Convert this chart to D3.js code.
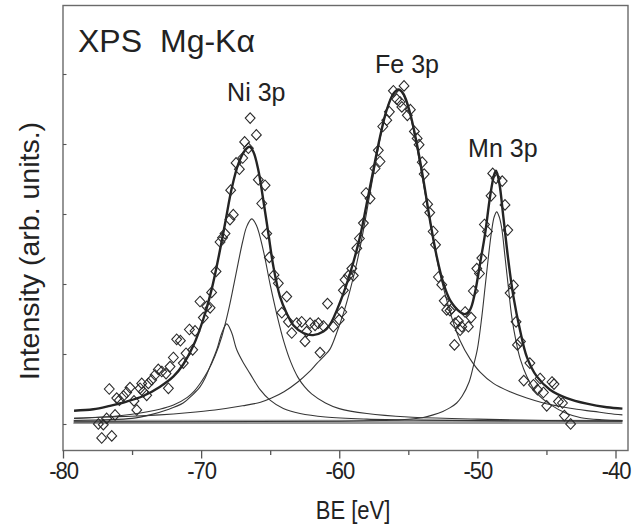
<!DOCTYPE html>
<html>
<head>
<meta charset="utf-8">
<script src="https://cdn.jsdelivr.net/npm/d3@7"></script>
<style>
  body { margin: 0; background: #fff; }
  svg { display: block; }
  text { font-family: Arial, "Liberation Sans", sans-serif; fill: #222; }
</style>
</head>
<body>
<svg id="chart" width="642" height="528"></svg>
<script>
// Binding-energy axis ticks (eV) and unlabelled intensity ticks
const beTicks = [-80, -70, -60, -50, -40];
const beMinorTicks = [-75, -65, -55, -45];
const intensityTicks = [0, 1, 2, 3, 4, 5];

// Measured spectrum: [binding energy (eV), intensity (arb. units)]
const measured = [
  [-77.44, 0.00], [-77.08, -0.01], [-77.20, -0.20], [-76.47, -0.17], [-76.84, 0.08],
  [-76.23, 0.13], [-76.65, 0.50], [-76.11, 0.37], [-75.92, 0.34], [-75.63, 0.40],
  [-75.39, 0.45], [-75.15, 0.52], [-74.86, 0.33], [-74.66, 0.20], [-74.42, 0.51],
  [-74.30, 0.58], [-74.18, 0.46], [-73.94, 0.41], [-73.82, 0.58], [-73.58, 0.63],
  [-73.34, 0.70], [-73.10, 0.78], [-72.85, 0.75], [-72.54, 0.72], [-72.37, 0.51],
  [-72.01, 0.95], [-71.77, 1.21], [-72.25, 0.82], [-71.50, 1.19], [-71.29, 0.87],
  [-71.09, 1.01], [-70.85, 1.35], [-70.61, 1.06], [-70.44, 1.33], [-70.08, 1.75],
  [-69.84, 1.52], [-69.59, 1.68], [-69.35, 1.66], [-69.24, 1.88], [-68.92, 2.18],
  [-68.63, 2.60], [-68.45, 2.66], [-68.27, 2.72], [-67.91, 2.92], [-67.67, 2.99],
  [-67.86, 3.34], [-67.47, 3.73], [-67.23, 3.64], [-66.99, 3.80], [-66.85, 4.03],
  [-66.58, 3.94], [-66.45, 4.37], [-66.00, 4.13], [-65.86, 3.49], [-65.37, 3.41],
  [-65.61, 3.15], [-65.25, 2.72], [-65.06, 2.38], [-64.72, 2.13], [-64.41, 2.01],
  [-63.80, 1.82], [-64.16, 1.59], [-63.68, 1.46], [-63.44, 1.30], [-63.08, 1.44],
  [-62.72, 1.46], [-62.48, 1.18], [-62.36, 1.32], [-62.11, 1.44], [-61.75, 1.41],
  [-61.51, 1.44], [-61.15, 1.40], [-61.39, 1.02], [-60.85, 1.72], [-60.43, 1.39],
  [-60.00, 1.49], [-59.82, 1.60], [-59.70, 1.91], [-59.58, 2.06], [-59.34, 2.12],
  [-59.09, 2.22], [-58.98, 2.12], [-58.73, 2.51], [-58.54, 2.65], [-58.25, 2.87],
  [-58.06, 3.30], [-57.77, 3.22], [-57.41, 3.65], [-57.05, 3.75], [-57.17, 3.91],
  [-56.85, 4.25], [-56.56, 4.34], [-56.37, 4.46], [-56.08, 4.76], [-55.84, 4.64],
  [-55.60, 4.60], [-55.47, 4.53], [-55.31, 4.83], [-55.07, 4.41], [-54.85, 4.49],
  [-54.56, 4.18], [-54.36, 4.08], [-54.22, 3.99], [-53.99, 3.74], [-53.85, 3.57],
  [-53.60, 3.14], [-53.45, 3.02], [-53.20, 2.75], [-53.03, 2.56], [-52.82, 2.10],
  [-52.58, 1.99], [-52.40, 1.76], [-52.22, 1.63], [-51.98, 1.62], [-51.85, 1.65],
  [-51.61, 1.44], [-51.37, 1.47], [-51.25, 1.34], [-51.13, 1.39], [-51.66, 1.13],
  [-50.89, 1.60], [-50.65, 1.39], [-50.45, 1.52], [-50.29, 1.90], [-50.04, 2.22],
  [-49.85, 2.15], [-49.68, 2.37], [-49.49, 2.85], [-49.27, 2.75], [-49.01, 3.26],
  [-48.89, 3.58], [-48.65, 3.51], [-48.20, 3.47], [-48.00, 3.13], [-47.80, 2.77],
  [-47.39, 1.98], [-47.63, 1.87], [-47.20, 1.46], [-46.88, 1.18], [-47.10, 1.13],
  [-46.20, 0.87], [-46.64, 0.62], [-45.94, 0.56], [-45.46, 0.65], [-45.65, 0.49],
  [-45.22, 0.45], [-44.60, 0.60], [-44.45, 0.57], [-44.13, 0.32], [-43.84, 0.30],
  [-44.98, 0.26], [-43.70, 0.12], [-43.25, 0.00]
];

// Fitted envelope (sum of components + background)
const fitEnvelope = [
  [-79.2, 0.19], [-77.8, 0.21], [-76.6, 0.26], [-75.4, 0.32], [-74.2, 0.40], [-73.0, 0.53],
  [-72.0, 0.68], [-71.3, 0.85], [-70.56, 1.12], [-69.84, 1.50], [-69.23, 1.93], [-68.75, 2.37],
  [-68.27, 2.86], [-67.78, 3.37], [-67.30, 3.72], [-66.82, 3.91], [-66.5, 3.96], [-66.22, 3.89],
  [-65.86, 3.63], [-65.50, 3.20], [-65.13, 2.72], [-64.77, 2.25], [-64.29, 1.82], [-63.80, 1.58],
  [-63.32, 1.41], [-62.60, 1.30], [-61.9, 1.27], [-61.15, 1.32], [-60.67, 1.42], [-59.94, 1.74],
  [-59.22, 2.15], [-58.49, 2.68], [-58.01, 3.15], [-57.53, 3.63], [-57.05, 4.10], [-56.56, 4.49],
  [-56.08, 4.72], [-55.72, 4.78], [-55.36, 4.72], [-54.87, 4.44], [-54.39, 4.01], [-53.91, 3.49],
  [-53.43, 2.91], [-52.94, 2.39], [-52.46, 2.01], [-51.98, 1.77], [-51.25, 1.60], [-50.89, 1.57],
  [-50.53, 1.63], [-50.17, 1.88], [-49.80, 2.30], [-49.44, 2.72], [-49.08, 3.25], [-48.79, 3.56],
  [-48.65, 3.62], [-48.41, 3.44], [-48.12, 2.96], [-47.76, 2.34], [-47.39, 1.82], [-46.91, 1.34],
  [-46.42, 0.96], [-45.70, 0.68], [-44.74, 0.49], [-43.53, 0.37], [-42.08, 0.29], [-40.63, 0.24],
  [-39.5, 0.22]
];

// Ni 3p main component
const fitNi = [
  [-79.2, 0.08], [-77, 0.10], [-75, 0.14], [-73, 0.21], [-72, 0.27], [-71, 0.38], [-70.5, 0.47],
  [-70, 0.60], [-69.5, 0.76], [-69, 0.97], [-68.5, 1.25], [-68, 1.64], [-67.5, 2.12], [-67, 2.60],
  [-66.7, 2.82], [-66.34, 2.93], [-66, 2.84], [-65.5, 2.48], [-65, 1.99], [-64.5, 1.55],
  [-64, 1.17], [-63.5, 0.88], [-63, 0.67], [-62.5, 0.53], [-62, 0.43], [-61, 0.30], [-60, 0.22],
  [-58, 0.15], [-55, 0.10], [-50, 0.07], [-45, 0.05], [-39.5, 0.045]
];

// Ni 3p satellite component
const fitNiSat = [
  [-79.2, 0.05], [-77, 0.06], [-75, 0.08], [-73.7, 0.13], [-72.5, 0.20], [-71.3, 0.30],
  [-70.6, 0.42], [-70.08, 0.53], [-69.7, 0.66], [-69.36, 0.82], [-68.87, 1.06], [-68.5, 1.30],
  [-68.15, 1.43], [-67.8, 1.31], [-67.42, 1.06], [-66.9, 0.86], [-66.46, 0.72], [-65.73, 0.49],
  [-65.01, 0.34], [-64.05, 0.22], [-62.84, 0.15], [-61, 0.10], [-58, 0.07], [-54, 0.055],
  [-48, 0.045], [-39.5, 0.04]
];

// Fe 3p component
const fitFe = [
  [-79.2, 0.08], [-77, 0.10], [-75, 0.11], [-73, 0.13], [-71, 0.16], [-69, 0.20], [-67, 0.26],
  [-65.7, 0.31], [-64.9, 0.37], [-64.0, 0.46], [-63.0, 0.60], [-62.2, 0.74], [-61.6, 0.87],
  [-61.1, 0.97], [-60.67, 1.07], [-60.19, 1.30], [-59.70, 1.58], [-59.22, 1.91], [-58.73, 2.30],
  [-58.25, 2.77], [-57.77, 3.30], [-57.29, 3.82], [-56.81, 4.30], [-56.32, 4.63], [-55.9, 4.75],
  [-55.6, 4.76], [-55.11, 4.58], [-54.63, 4.20], [-54.15, 3.70], [-53.66, 3.16], [-53.18, 2.62],
  [-52.70, 2.14], [-52.22, 1.77], [-51.74, 1.45], [-51.25, 1.19], [-50.53, 0.93], [-49.80, 0.74],
  [-48.84, 0.58], [-47.63, 0.46], [-46.42, 0.37], [-45.22, 0.30], [-44.0, 0.25], [-42.8, 0.21],
  [-41.6, 0.18], [-40.5, 0.15], [-39.5, 0.13]
];

// Mn 3p component
const fitMn = [
  [-79.2, 0.03], [-66, 0.035], [-60, 0.04], [-57, 0.05], [-55.5, 0.06], [-54, 0.09], [-53.2, 0.13],
  [-52.5, 0.18], [-52, 0.23], [-51.5, 0.30], [-51.1, 0.40], [-50.6, 0.60], [-50.3, 0.82],
  [-50.0, 1.07], [-49.68, 1.53], [-49.44, 1.96], [-49.2, 2.39], [-48.96, 2.77], [-48.78, 2.96],
  [-48.6, 3.03], [-48.42, 2.96], [-48.24, 2.80], [-48.0, 2.39], [-47.76, 1.96], [-47.51, 1.53],
  [-47.2, 1.18], [-46.9, 0.93], [-46.42, 0.68], [-45.7, 0.44], [-44.74, 0.28], [-43.53, 0.15],
  [-42.5, 0.09], [-41, 0.06], [-39.5, 0.05]
];

// Flat background
const background = [[-79.25, 0.015], [-39.5, 0.015]];

// Peak annotations, anchored in data coordinates (start of text, baseline)
const peakNames = ["Ni 3p", "Fe 3p", "Mn 3p"];
const peakLabelBE = [-68.12, -57.41, -50.67];
const peakLabelI = [4.61, 5.02, 3.82];

const svg = d3.select("#chart");
const frame = { left: 63, right: 628, top: 5.5, bottom: 450.5 };

const x = d3.scaleLinear().domain([-80, -39.095]).range([frame.left, frame.right]);
const y = d3.scaleLinear().domain([-0.3786, 5.9786]).range([frame.bottom, frame.top]);

svg.append("rect").attr("width", 642).attr("height", 528).attr("fill", "#fff");

const line = d3.line()
  .x(d => x(d[0]))
  .y(d => y(d[1]))
  .curve(d3.curveCatmullRom.alpha(0.5));

const curves = svg.append("g").attr("fill", "none").attr("stroke-linejoin", "round");

// background: soft grey band with a dark line on it
curves.append("path").datum(background.map(d => [d[0], d[1] + 0.03]))
  .attr("d", line).attr("stroke", "#a0a0a0").attr("stroke-width", 2.4);
curves.append("path").datum(background)
  .attr("d", line).attr("stroke", "#333").attr("stroke-width", 1.1);

[fitNiSat, fitNi, fitFe, fitMn].forEach(c => {
  curves.append("path").datum(c)
    .attr("d", line).attr("stroke", "#363636").attr("stroke-width", 1.1);
});

curves.append("path").datum(fitEnvelope)
  .attr("d", line).attr("stroke", "#242424").attr("stroke-width", 2.4);

// measured points as open diamonds
const diamond = "M0,-5.3L4.9,0L0,5.3L-4.9,0Z";
svg.append("g").selectAll("path").data(measured).join("path")
  .attr("d", diamond)
  .attr("transform", d => `translate(${x(d[0])},${y(d[1])})`)
  .attr("fill", "none").attr("stroke", "#2a2a2a").attr("stroke-width", 1.1);

// frame
svg.append("rect")
  .attr("x", frame.left).attr("y", frame.top)
  .attr("width", frame.right - frame.left).attr("height", frame.bottom - frame.top)
  .attr("fill", "none").attr("stroke", "#6a6a6a").attr("stroke-width", 1.4);

// bottom axis: major labelled ticks and minor ticks, pointing outward
const xAxis = d3.axisBottom(x).tickValues(beTicks).tickSize(8).tickPadding(3)
  .tickFormat(d => String(d));
const gx = svg.append("g").attr("transform", `translate(0,${frame.bottom})`).call(xAxis);
gx.select(".domain").remove();
gx.selectAll("line").attr("stroke", "#555").attr("stroke-width", 1.3);
gx.selectAll("text").attr("font-size", 24).attr("fill", "#222")
  .attr("font-family", "Arial, 'Liberation Sans', sans-serif")
  .attr("letter-spacing", -1.2)
  .attr("transform", "scale(0.92,1)");

const xMinor = d3.axisBottom(x).tickValues(beMinorTicks).tickSize(4.5).tickFormat("");
const gxm = svg.append("g").attr("transform", `translate(0,${frame.bottom})`).call(xMinor);
gxm.select(".domain").remove();
gxm.selectAll("line").attr("stroke", "#555").attr("stroke-width", 1.3);

// left axis: short inward ticks, no labels
const yAxis = d3.axisRight(y).tickValues(intensityTicks).tickSize(3.5).tickFormat("");
const gy = svg.append("g").attr("transform", `translate(${frame.left},0)`).call(yAxis);
gy.select(".domain").remove();
gy.selectAll("line").attr("stroke", "#555").attr("stroke-width", 1.1);

// axis titles
svg.append("text")
  .attr("transform", "translate(353,519) scale(0.88,1)")
  .attr("text-anchor", "middle").attr("font-size", 25)
  .text("BE [eV]");

svg.append("text")
  .attr("transform", "translate(39,251) rotate(-90)")
  .attr("text-anchor", "middle").attr("font-size", 28.5)
  .text("Intensity (arb. units.)");

// source / excitation tag
svg.append("text").attr("x", 78).attr("y", 51.7).attr("font-size", 32).text("XPS");
svg.append("text").attr("x", 160).attr("y", 51.7).attr("font-size", 32).text("Mg-Kα");

// peak labels
svg.append("g").selectAll("text").data(peakNames).join("text")
  .attr("x", (d, i) => x(peakLabelBE[i]))
  .attr("y", (d, i) => y(peakLabelI[i]))
  .attr("font-size", 25)
  .text(d => d);
</script>
</body>
</html>
